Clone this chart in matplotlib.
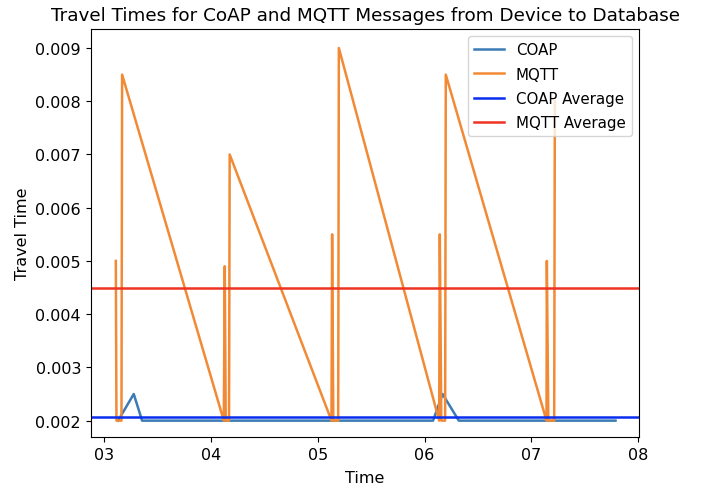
import matplotlib
matplotlib.use("Agg")
import matplotlib.pyplot as plt
from matplotlib.ticker import FuncFormatter

# time in minutes (tick labels show the minute only)
coap_time = [3.131, 3.278, 3.356, 4.20, 5.20, 6.080, 6.169, 6.321, 7.00, 7.788]
coap_travel = [0.002, 0.0025, 0.002, 0.002, 0.002, 0.002, 0.0025, 0.002, 0.002, 0.002]

mqtt_time = [3.110, 3.116, 3.163, 3.169,
             4.121, 4.130, 4.139, 4.170, 4.176,
             5.129, 5.135, 5.146, 5.192, 5.198,
             6.137, 6.143, 6.157, 6.193, 6.199,
             7.142, 7.145, 7.159, 7.214, 7.220]
mqtt_travel = [0.005, 0.002, 0.002, 0.0085,
               0.002, 0.0049, 0.002, 0.002, 0.007,
               0.002, 0.0055, 0.002, 0.002, 0.009,
               0.002, 0.0055, 0.002, 0.002, 0.0085,
               0.002, 0.005, 0.002, 0.002, 0.008]

coap_avg = 0.00207
mqtt_avg = 0.0045

fig = plt.figure(figsize=(7.04, 4.89), dpi=100)
ax = fig.add_axes([0.129, 0.104, 0.779, 0.835])

ax.plot(coap_time, coap_travel, color='#3a7bb6', lw=1.8, label='COAP')
ax.plot(mqtt_time, mqtt_travel, color='#f28a35', lw=1.8, label='MQTT')
ax.axhline(coap_avg, color='#0a2ef0', lw=1.8, label='COAP Average')
ax.axhline(mqtt_avg, color='#ee3322', lw=1.8, label='MQTT Average')

ax.set_xlim(2.876, 8.01)
ax.set_ylim(0.00169, 0.00936)
ax.xaxis.set_major_formatter(FuncFormatter(lambda v, p: '%02d' % round(v)))

ax.set_title('Travel Times for CoAP and MQTT Messages from Device to Database', fontsize=13.2)
ax.set_xlabel('Time', fontsize=11.5, labelpad=6)
ax.set_ylabel('Travel Time', fontsize=11.5)
ax.tick_params(labelsize=11.5)
ax.legend(loc='upper right', fontsize=10.8, labelspacing=0.62)

fig.savefig('out.png', dpi=100)
